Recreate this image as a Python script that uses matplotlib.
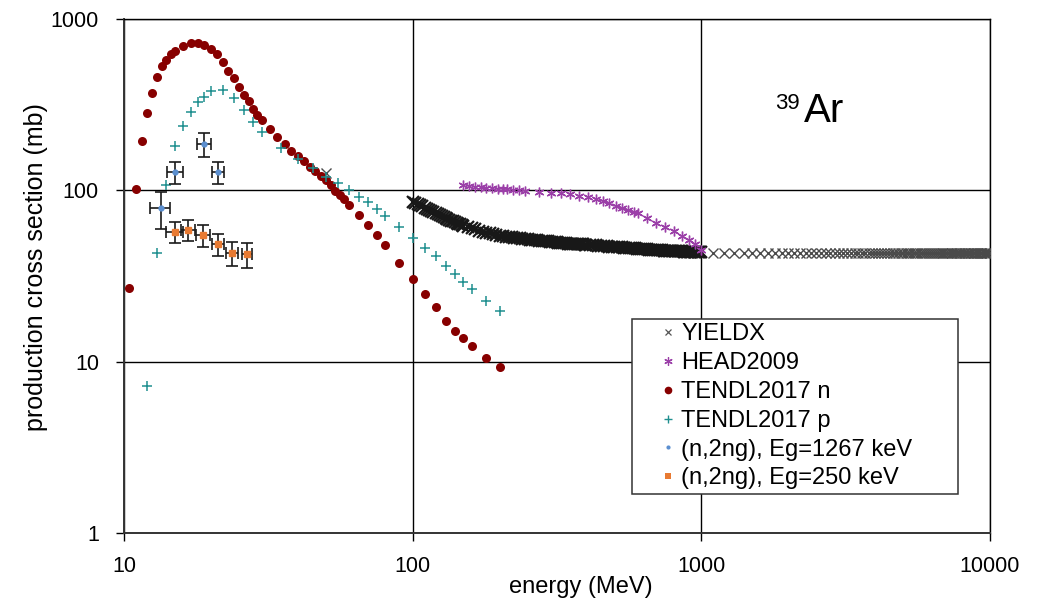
import matplotlib
matplotlib.use("Agg")
import matplotlib.pyplot as plt
from matplotlib.lines import Line2D

plt.rcParams['font.family'] = ['Liberation Sans', 'DejaVu Sans']

# ---------------- data (energy in MeV, cross section in mb) ----------------
yieldx_E = [50,
            100, 102, 104, 106, 108, 110, 112, 114, 116, 118, 120, 122, 124, 126, 128, 130,
            132, 134, 136, 138, 140, 142, 144, 146, 148, 150,
            155, 160, 165, 170, 175, 180, 185, 190, 195, 200, 205, 210, 215, 220, 225, 230,
            235, 240, 245, 250, 255, 260, 265, 270, 275, 280, 285, 290, 295, 300, 305, 310,
            315, 320, 325, 330, 335, 340, 345, 350, 355, 360, 365, 370, 375, 380, 385, 390,
            395, 400,
            410, 420, 430, 440, 450, 460, 470, 480, 490, 500, 510, 520, 530, 540, 550, 560,
            570, 580, 590, 600, 610, 620, 630, 640, 650, 660, 670, 680, 690, 700, 710, 720,
            730, 740, 750, 760, 770, 780, 790, 800, 810, 820, 830, 840, 850, 860, 870, 880,
            890, 900, 910, 920, 930, 940, 950, 960, 970, 980, 990, 1000,
            1100, 1200, 1300, 1400, 1500, 1600, 1700, 1800, 1900, 2000,
            2100, 2200, 2300, 2400, 2500, 2600, 2700, 2800, 2900, 3000,
            3100, 3200, 3300, 3400, 3500, 3600, 3700, 3800, 3900, 4000,
            4100, 4200, 4300, 4400, 4500, 4600, 4700, 4800, 4900, 5000,
            5100, 5200, 5300, 5400, 5500, 5600, 5700, 5800, 5900, 6000,
            6100, 6200, 6300, 6400, 6500, 6600, 6700, 6800, 6900, 7000,
            7100, 7200, 7300, 7400, 7500, 7600, 7700, 7800, 7900, 8000,
            8100, 8200, 8300, 8400, 8500, 8600, 8700, 8800, 8900, 9000,
            9100, 9200, 9300, 9400, 9500, 9600, 9700, 9800, 9900, 10000]
yieldx_xs = [126.0,
             86.0, 84.6, 83.2, 81.9, 80.6, 79.3, 78.1, 76.9, 75.6, 74.5, 73.6, 72.6, 71.7, 70.8, 69.8, 68.9,
             68.0, 67.0, 66.4, 65.8, 65.2, 64.6, 64.0, 63.4, 62.8, 62.2,
             60.9, 60.0, 59.1, 58.2, 57.3, 56.7, 56.0, 55.4, 54.7, 54.1, 53.9, 53.6, 53.4, 53.2, 52.9, 52.7,
             52.5, 52.2, 52.0, 51.8, 51.5, 51.3, 51.2, 51.0, 50.9, 50.7, 50.6, 50.4, 50.3, 50.1, 50.0, 49.9,
             49.7, 49.6, 49.4, 49.3, 49.1, 49.0, 48.9, 48.9, 48.8, 48.7, 48.6, 48.6, 48.5, 48.4, 48.3, 48.3,
             48.2, 48.1,
             48.0, 47.8, 47.7, 47.5, 47.4, 47.2, 47.1, 47.0, 46.8, 46.7, 46.6, 46.5, 46.4, 46.3, 46.2, 46.1,
             46.0, 45.9, 45.8, 45.7, 45.6, 45.5, 45.4, 45.3, 45.2, 45.1, 45.0, 44.9, 44.9, 44.8, 44.7, 44.6,
             44.6, 44.5, 44.4, 44.4, 44.3, 44.3, 44.2, 44.2, 44.2, 44.1, 44.1, 44.0, 44.0, 44.0, 43.9, 43.9,
             43.8, 43.8, 43.8, 43.7, 43.7, 43.6, 43.6, 43.6, 43.5, 43.5, 43.4, 43.4,
             43.3, 43.3, 43.2, 43.2, 43.2, 43.1, 43.1, 43.1, 43.0, 43.0,
             43.0, 43.0, 43.0, 42.9, 42.9, 42.9, 42.9, 42.9, 42.9, 42.9,
             42.9, 42.9, 42.9, 42.9, 42.8, 42.8, 42.8, 42.8, 42.8, 42.8,
             42.8, 42.8, 42.8, 42.8, 42.8, 42.8, 42.8, 42.8, 42.8, 42.8,
             42.8, 42.8, 42.8, 42.8, 42.8, 42.8, 42.8, 42.8, 42.8, 42.8,
             42.8, 42.8, 42.8, 42.8, 42.8, 42.8, 42.8, 42.8, 42.8, 42.8,
             42.8, 42.8, 42.8, 42.8, 42.8, 42.8, 42.8, 42.8, 42.8, 42.8,
             42.8, 42.8, 42.8, 42.8, 42.8, 42.8, 42.8, 42.8, 42.8, 42.8,
             42.8, 42.8, 42.8, 42.8, 42.8, 42.8, 42.8, 42.8, 42.8, 42.8]

head_E = [149, 157, 165, 172, 180, 188, 197, 205, 213, 222, 233, 245, 274, 301, 326, 352, 378,
          404, 432, 455, 480, 506, 531, 556, 583, 602, 646, 697, 749, 802, 857, 909, 953, 998]
head_xs = [107.4, 105.9, 105.0, 104.1, 103.6, 103.2, 102.2, 101.9, 101.4, 100.8, 100.4, 99.5,
           97.7, 96.8, 96.0, 94.7, 92.6, 91.0, 88.6, 86.6, 83.9, 81.3, 79.1, 76.7, 74.7, 73.4,
           68.6, 64.7, 60.8, 57.6, 54.3, 51.3, 48.6, 44.8]

tendl_n_E = [10.4, 11, 11.5, 12, 12.5, 13, 13.5, 14, 14.5, 15, 16, 17, 18, 19, 20, 21, 22, 23,
             24, 25, 26, 27, 28, 29, 30, 32, 34, 36, 38, 40, 42, 44, 46, 48, 50, 52, 54, 56, 58,
             60, 65, 70, 75, 80, 90, 100, 110, 120, 130, 140, 150, 160, 180, 200]
tendl_n_xs = [27, 102, 194, 281, 371, 459, 529, 578, 627, 653, 696, 721, 727, 708, 665, 622,
              561, 497, 452, 403, 358, 331, 298, 274, 257, 227, 206, 186, 170, 158, 148, 137,
              130, 122, 115, 107, 98.7, 93.5, 88.6, 81.7, 71.8, 62.5, 54.8, 48.1, 37.6, 30.2,
              24.9, 20.8, 17.3, 15.0, 13.7, 12.4, 10.5, 9.34]

tendl_p_E = [12, 13, 14, 15, 16, 17, 18, 19, 20, 22, 24, 26, 28, 30, 35, 40, 45, 50, 55, 60,
             65, 70, 75, 80, 90, 100, 110, 120, 130, 140, 150, 160, 180, 200]
tendl_p_xs = [7.2, 43.0, 108, 181, 236, 287, 328, 349, 378, 384, 344, 295, 252, 218, 176, 152,
              135.5, 120, 110, 100.4, 91.8, 85.4, 77.8, 71.1, 60.8, 52.5, 46.0, 41.2, 36.3,
              32.5, 29.2, 26.6, 22.5, 19.7]

g1267_E = [13.4, 15.0, 18.9, 21.2]
g1267_xs = [78.5, 128, 186, 128]
g1267_dE = [1.05, 0.95, 1.05, 1.05]
g1267_dxs = [19, 19, 30, 19]

g250_E = [15.0, 16.7, 18.8, 21.2, 23.7, 26.7]
g250_xs = [57.3, 58.9, 54.8, 48.4, 43.0, 42.3]
g250_dE = [1.0, 0.9, 1.0, 1.05, 1.1, 1.1]
g250_dxs = [8, 8, 8, 7, 7, 7]

x_ticks = [10, 100, 1000, 10000]
x_tick_labels = ["10", "100", "1000", "10000"]
y_ticks = [1, 10, 100, 1000]
y_tick_labels = ["1", "10", "100", "1000"]

# ---------------- figure ----------------
W, H = 1039, 601
fig = plt.figure(figsize=(W / 100, H / 100), dpi=100)
ax = fig.add_axes([124 / W, 1 - 533 / H, 866 / W, 514 / H])
ax.set_xscale('log')
ax.set_yscale('log')
ax.set_xlim(10, 10000)
ax.set_ylim(1, 1000)

c_head = '#9b3fa8'
c_n = '#870000'
c_p = '#1f8f8f'
c_blue = '#5b8fd0'
c_orange = '#e87a32'

# YIELDX: the dense 100-1000 MeV part overlaps into a dark band; drawn from the same arrays
i_lo = yieldx_E.index(100)
i_hi = yieldx_E.index(1000) + 1
ax.plot(yieldx_E[i_lo:i_hi], yieldx_xs[i_lo:i_hi], linestyle='none', marker='x', ms=8,
        mew=1.6, color='#181818', zorder=3)
ax.plot(yieldx_E[:i_lo] + yieldx_E[i_hi:], yieldx_xs[:i_lo] + yieldx_xs[i_hi:],
        linestyle='none', marker='x', ms=6.5, mew=1.0, color='#4a4a4a', zorder=3)
ax.plot(head_E, head_xs, linestyle='none', marker=(6, 2, 0), ms=7, mew=1.0,
        color=c_head, zorder=4)
ax.plot(tendl_n_E, tendl_n_xs, linestyle='none', marker='o', ms=6.5, mew=0,
        color=c_n, zorder=5)
ax.plot(tendl_p_E, tendl_p_xs, linestyle='none', marker='+', ms=7, mew=1.1,
        color=c_p, zorder=6)
ax.errorbar(g1267_E, g1267_xs, xerr=g1267_dE, yerr=g1267_dxs, fmt='o', ms=3.5,
            mfc=c_blue, mec=c_blue, ecolor='#1a1a1a', elinewidth=1.2, capsize=4.5,
            capthick=1.2, zorder=7)
ax.errorbar(g250_E, g250_xs, xerr=g250_dE, yerr=g250_dxs, fmt='s', ms=4.5,
            mfc=c_orange, mec=c_orange, ecolor='#1a1a1a', elinewidth=1.2, capsize=4.5,
            capthick=1.2, zorder=7)

# axes styling
ax.grid(True, which='major', color='black', linewidth=1.0)
ax.minorticks_off()
ax.set_xticks(x_ticks)
ax.set_xticklabels(x_tick_labels)
ax.set_yticks(y_ticks)
ax.set_yticklabels(y_tick_labels)
ax.tick_params(axis='x', which='major', direction='out', length=6, width=1,
               labelsize=15.5, pad=10.5)
ax.tick_params(axis='y', which='major', direction='out', length=6, width=1,
               labelsize=15.5, pad=12)
for side in ['top', 'right']:
    ax.spines[side].set_color('black')
    ax.spines[side].set_linewidth(1.0)
for side in ['left', 'bottom']:
    ax.spines[side].set_color('#333333')
    ax.spines[side].set_linewidth(1.4)

ax.set_xlabel('energy (MeV)', fontsize=17)
ax.xaxis.set_label_coords((581 - 124) / 866, (533 - 576) / 514)
ax.set_ylabel('production cross section (mb)', fontsize=18)
ax.yaxis.set_label_coords((48 - 124) / 866, (533 - 267) / 514)

# isotope label
fig.text(775 / W, 1 - 109 / H, '39', fontsize=16, va='baseline', ha='left')
fig.text(804 / W, 1 - 121.7 / H, 'Ar', fontsize=29, va='baseline', ha='left')

# legend
handles = [
    Line2D([], [], linestyle='none', marker='x', ms=5, mew=0.9, color='#555555'),
    Line2D([], [], linestyle='none', marker=(6, 2, 0), ms=6, mew=0.9, color=c_head),
    Line2D([], [], linestyle='none', marker='o', ms=5.5, mew=0, color=c_n),
    Line2D([], [], linestyle='none', marker='+', ms=6, mew=1.0, color=c_p),
    Line2D([], [], linestyle='none', marker='o', ms=3, mew=0, color=c_blue),
    Line2D([], [], linestyle='none', marker='s', ms=4, mew=0, color=c_orange),
]
labels = ['YIELDX', 'HEAD2009', 'TENDL2017 n', 'TENDL2017 p',
          '(n,2ng), Eg=1267 keV', '(n,2ng), Eg=250 keV']
x0 = (632 - 124) / 866
x1 = (958 - 124) / 866
ytop = (533 - 319) / 514
ybot = (533 - 492) / 514
leg = ax.legend(handles, labels, loc='upper left',
                bbox_to_anchor=(x0, ybot, x1 - x0, ytop - ybot), mode='expand',
                borderaxespad=0, fontsize=17, frameon=True, fancybox=False,
                framealpha=1, edgecolor='#333333', borderpad=0.18,
                labelspacing=0.29, handlelength=2.72, handletextpad=-0.81,
                numpoints=1)
leg.get_frame().set_linewidth(1.1)
leg.set_zorder(10)

fig.savefig('out.png', dpi=100)
